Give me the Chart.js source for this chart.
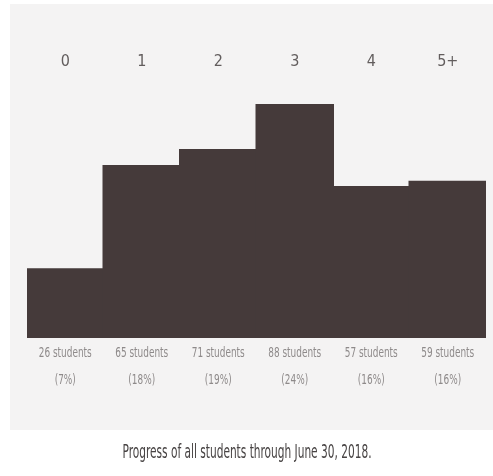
<!DOCTYPE html>
<html>
<head>
<meta charset="utf-8">
<script src="https://cdn.jsdelivr.net/npm/chart.js@4"></script>
<style>
    html, body { margin: 0; padding: 0; background: #ffffff; }
    #wrap { position: relative; width: 493px; height: 476px; }
    #panel { position: absolute; left: 10px; top: 4px; width: 483px; height: 426px; background: #f4f3f3; }
    #chart { position: absolute; left: 0; top: 0; }
</style>
</head>
<body>
<div id="wrap">
    <div id="panel"></div>
    <canvas id="chart" width="493" height="476"></canvas>
</div>
<script>
// 데이터
const categories = ['0', '1', '2', '3', '4', '5+'];
const students = [26, 65, 71, 88, 57, 59];
const percents = ['7%', '18%', '19%', '24%', '16%', '16%'];
const titleText = 'Progress of all students through June 30, 2018.';

const FONT = '"Liberation Sans Narrow", "DejaVu Sans Condensed", "Liberation Sans", sans-serif';

// 가로로 좁혀서 텍스트 그리기
function drawNarrow(ctx, text, x, y, sx) {
    ctx.save();
    ctx.translate(x, y);
    ctx.scale(sx, 1);
    ctx.fillText(text, 0, 0);
    ctx.restore();
}

const labelPlugin = {
    id: 'barLabels',
    afterDatasetsDraw(chart) {
        const ctx = chart.ctx;
        const xs = chart.scales.x;
        const ys = chart.scales.y;
        const base = ys.getPixelForValue(0);

        ctx.save();
        ctx.textAlign = 'center';
        ctx.textBaseline = 'middle';
        ctx.fillStyle = '#8e8a8a';
        ctx.font = '14px ' + FONT;
        const sx = Math.min(1, 53 / ctx.measureText('26 students').width);
        students.forEach((n, i) => {
            const x = xs.getPixelForValue(i);
            drawNarrow(ctx, n + ' students', x, base + 15, sx);
            drawNarrow(ctx, '(' + percents[i] + ')', x, base + 42, sx);
        });

        // 하단 제목
        ctx.fillStyle = '#474343';
        ctx.font = '20px ' + FONT;
        const tx = Math.min(1, 249 / ctx.measureText(titleText).width);
        drawNarrow(ctx, titleText, 247, 453, tx);
        ctx.restore();
    }
};

new Chart(document.getElementById('chart').getContext('2d'), {
    type: 'bar',
    data: {
        labels: categories,
        datasets: [{
            data: students,
            backgroundColor: '#453a3a',
            borderWidth: 0,
            inflateAmount: 1,
            barPercentage: 1,
            categoryPercentage: 1
        }]
    },
    options: {
        responsive: false,
        animation: false,
        layout: { padding: { top: 50, left: 27, right: 7, bottom: 138 } },
        plugins: {
            legend: { display: false },
            tooltip: { enabled: false }
        },
        scales: {
            x: {
                position: 'top',
                grid: { display: false, drawTicks: false },
                border: { display: false },
                ticks: {
                    color: '#625d5d',
                    padding: 2,
                    font: { size: 16, family: FONT }
                }
            },
            y: {
                display: false,
                min: 0,
                max: 100
            }
        }
    },
    plugins: [labelPlugin]
});
</script>
</body>
</html>
